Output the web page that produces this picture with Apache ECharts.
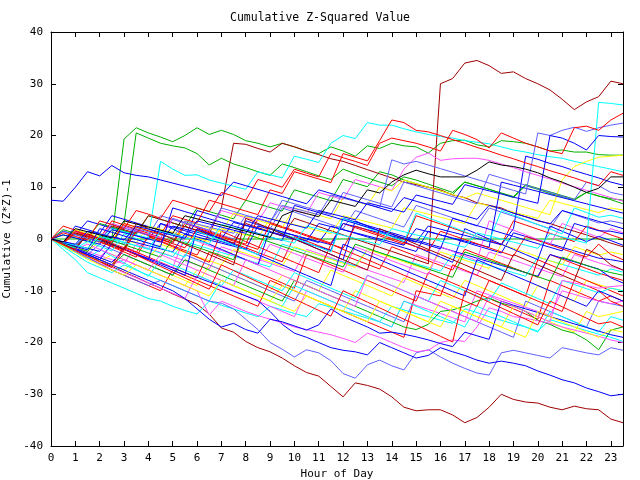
<!DOCTYPE html>
<html>
<head>
<meta charset="utf-8">
<script src="https://cdn.jsdelivr.net/npm/echarts@6/dist/echarts.min.js"></script>
<style>html,body{margin:0;padding:0;background:#fff;}#c{width:640px;height:480px;}</style>
</head>
<body>
<div id="c"></div>
<script>
const titleText = 'Cumulative Z-Squared Value';
const xName = 'Hour of Day';
const yName = 'Cumulative (Z*Z)-1';
const hours = [0,0.5,1,1.5,2,2.5,3,3.5,4,4.5,5,5.5,6,6.5,7,7.5,8,8.5,9,9.5,10,10.5,11,11.5,
  12,12.5,13,13.5,14,14.5,15,15.5,16,16.5,17,17.5,18,18.5,19,19.5,20,20.5,21,21.5,22,22.5,23,23.5];

const s01 = [0,-0.8,-1.5,0.5,-0.3,-1.2,-2,1.5, 0.8,0,-0.8,2.5,1.6,0.8,0,-0.8, 3,2.2,1.4,0.6,4,3.2,2.4,1.6, 0.8,0,-0.8,-1.6,-2.4,-3.2,-4,-4.8, 30,31,34,34.5,33.5,32,32.3,31, 30,28.8,27,25,26.5,27.5,30.5,30];
const s02 = [0,-1.1,-2.2,-3.2,-4.3,-5.3,-6.4,-7.4, -8.5,-9.5,-10.6,-11.6,-12.6,-14.5,-17.2,-18, -19.8,-21,-21.8,-23,-24.5,-25.8,-26.5,-28.5, -30.5,-27.8,-28.3,-29,-30.5,-32.5,-33.2,-33, -33,-34,-35.5,-34.5,-32.5,-30,-31,-31.5, -31.7,-32.5,-33,-32.3,-32.8,-33,-34.8,-35.5];
const s03 = [0,0.8,0.2,-0.5,0.6,0,19.3,21.5, 20.5,19.7,18.8,20,21.5,20.2,21,20.2, 19,18.5,17.8,18.5,17.8,17,16.5,17.8, 17,16,18,17.5,18.5,18,17.8,16.6, 18.5,19,19.1,18.2,17.8,19,18.8,18.5, 17.8,17,17.2,16.8,16.8,16.3,16.2,16.2];
const s04 = [0,-0.6,-1.2,0.5,-0.2,-0.9,3,20.5, 19.5,18.5,18,17.6,16.5,14.3,15.6,14.5, 13.8,13,12.3,14.5,13.8,13,12.2,11.5, 13.5,12.6,11.8,11,10.3,12,11.4,10.6, 9.8,9,11,10.3,9.6,8.8,8,10.3, 9.6,8.8,8.2,7.5,9,8.3,7.6,6.8];
const s05 = [7.5,7.3,10,13,12.2,14.2,12.8,12.3, 12,11.4,10.8,10.2,9.6,9,8.4,11, 10.3,9.6,8.9,8.2,7.5,6.8,9.5,8.8, 8.1,7.4,6.7,6,5.3,8,7.3,6.6, 5.9,5.2,4.5,3.8,6.5,5.8,5,4.3, 3.6,2.9,5.5,4.8,4.1,3.4,2.7,2];
const s06 = [0,-0.6,-1.2,-1.8,0.5,-0.1,-0.7,-1.3, -1.9,1.5,0.9,0.3,-0.3,-0.9,2.8,2.2, 1.6,1,0.4,-0.2,-0.8,2.5,1.9,1.3, 0.7,0.1,-0.5,-1.1,2,1.4,0.8,0.2, -0.4,-1,-1.6,1.2,0.6,0,-0.6,-1.2, -1.8,1,0.4,-0.2,-0.8,26.4,26.2,25.9];
const s07 = [0,1.2,0.5,-0.2,3.5,2.8,2,5.5, 4.8,4,7.5,6.8,6,5.3,9,8.3, 7.5,11.5,10.8,10,13.5,12.7,12,16.5, 15.7,15,14.2,18.5,19.5,19,18.5,17.8, 17,21,20.2,19.2,17.6,20.5,19.5,18.5, 17.8,17,16.5,21.5,21.8,21,23,24.3];
const s08 = [0,-0.6,2,1.4,0.8,0.2,3.5,2.9, 2.3,1.7,1.1,4.5,3.9,3.3,2.7,2.1, 1.5,0.9,0.3,4.5,5.5,4.9,4.3,7.5, 6.9,6.3,9.5,8.9,11,12.4,13.3,12.6, 12,12,12,13.3,14.9,14.3,14,13.5, 12.8,11.8,11,10,9,9.8,12,12];
const s09 = [0,-0.7,1.2,0.5,-0.2,2.5,1.8,1.1, 4.5,3.8,3.1,2.4,1.7,1,6,18.5, 18.3,17.5,16.8,18.5,17.8,17,16.3,15.5, 15,14.2,13.4,12.6,11.8,11,10.5,10, 9.5,8.5,8,7,6.5,6,5,4.3, 3.5,3,2.2,1.5,0.8,0,-0.8,-1.5];
const s10 = [0,-0.7,1.5,0.8,0.1,-0.6,3,2.3, 1.6,0.9,4.5,3.8,3.1,7.5,6.8,6.1, 5.4,4.7,9.5,8.8,13,12.3,11.6,10.9, 16.5,15.8,15.1,19,23,22.5,21,20.7, 20,19.2,18.5,17.7,17,16.2,15.5,14.7, 14,13.2,12.5,11.8,11,10.3,13,12.3];
const s11 = [0,-0.5,-1,1.5,1,0.4,-0.2,2.5, 1.9,1.3,0.7,0.1,3.5,2.9,2.3,1.7, 1.1,4.5,3.9,3.3,2.7,2.1,5.5,4.9, 4.3,3.7,7,6.4,5.8,5.2,8.5,7.9, 7.3,6.7,10.5,9.9,9.3,8.7,8.1,7.5, 6.9,20,19.5,18.5,17.2,20,19.8,19.7];
const s12 = [0,-0.6,-1.2,-1.8,-2.4,0.5,-0.1,-0.7, -1.3,-1.9,-2.5,1,0.4,-0.2,-0.8,-1.4, -2,2.5,1.9,1.3,0.7,0.1,-0.5,-1.1, 3,2.4,1.8,1.2,0.6,0,-0.6,2.5, 1.9,1.3,0.7,0.1,-0.5,-1.1,2,16, 15.4,14.6,14,13.2,12.5,11.8,11,10.4];
const s13 = [0,0.8,0.2,-0.4,-1,1.8,1.2,0.6, 0,-0.6,2.5,1.9,1.3,0.7,0.1,3.2, 2.6,2,1.4,0.8,0.2,-0.4,3,2.4, 1.8,1.2,0.6,0,-0.6,-1.2,2,1.4, 0.8,0.2,-0.4,-1,-1.6,11,10.4,9.8, 9.2,8.6,8,7.4,6.8,6.2,5.6,5];
const s14 = [0,-0.7,1.5,0.8,0.1,3,2.3,1.6, 0.9,0.2,3.8,3.1,2.4,1.7,5.5,4.8, 4.1,3.4,7,6.3,5.6,4.9,9,8.3, 7.6,11.5,10.8,10.1,9.4,13.5,15.8,16.6, 15.2,15.5,15.6,15.6,15.2,14.5,13.8,13, 12.3,11.6,10.8,10.1,9.4,8.7,8,7.3];
const s15 = [0,-0.6,-1.2,0.8,0.2,-0.4,-1,2, 1.4,0.8,0.2,3.5,2.9,2.3,1.7,1.1, 4.5,3.9,3.3,6.5,5.9,5.3,4.7,8.5, 7.9,7.3,6.7,6.1,15.3,14.5,15,14.3, 13.6,12.9,12.2,11.5,10.8,10.1,9.4,8.7, 20.5,20,21,21.6,20.8,21.5,22,22.4];
const s16 = [0,-0.6,0.8,0.2,-0.4,2,1.4,0.8, 0.2,15,13.5,12.3,12.4,11.4,10.8,10.2, 9.6,13,12.4,11.8,16,15.4,14.8,18.5, 20,19.4,22.5,22,22,21.3,20.7,20.2, 19.8,19.5,19,18.7,18.4,17.8,17.2,16.8, 16.3,15.9,15.6,15,14.5,14,13.5,13];
const s17 = [0,-0.9,-1.8,-2.7,-3.6,-4.5,-2,-2.9, -3.8,-4.7,-5.6,-6.5,-7.4,-8.3,-9.2,-10.1, -11,-11.9,-14,-16.5,-18.2,-19,-20,-21, -21.5,-21.8,-22.4,-20,-21,-22,-23,-22.5, -21,-21.8,-22.5,-23.4,-24,-23.6,-24,-24.5, -25.5,-26.3,-27.2,-27.8,-28.8,-29.5,-30.3,-30];
const s18 = [0,-1,-2,-3,-4,-5,-6,-7, -8,-9,-10,-11.5,-13.5,-15.5,-17,-16.3, -17.5,-18.2,-15.5,-16,-16.8,-17.6,-16.6,-13.5, -15,-16,-17,-18.2,-18,-18.4,-18.9,-19.5, -20.2,-20.8,-18,-18.7,-19.4,-12,-12.8,-13.5, -14.2,-15,-15.7,-16.4,-17.1,-17.8,-18.5,-19];
const s19 = [0,-2,-4,-6.5,-7.5,-8.5,-9.5,-10.5, -11.5,-12,-13,-13.8,-14.5,-12,-12.8,-13.5, -14.3,-15,-13,-13.7,-14.4,-15,-12.5,-13.2, -13.9,-14.6,-15.3,-16,-13,-13.7,-14.4,-15, -15.7,-16.3,-13.5,-14.2,-15,-15.7,-16.4,-17, -17.8,-15.6,-16.3,-17,-17.7,-18.4,-19,-19.8];
const s20 = [0,-1.2,-2.4,-3.6,-4.8,-6,-7,-8, -9,-8,-9,-10,-11,-12,-12.4,-13.5, -15.5,-17.5,-20,-21.3,-22.8,-21.4,-22,-23.5, -26,-26.9,-24.3,-23.4,-24.5,-25.3,-22,-21.4, -22.8,-24,-25,-25.9,-26.3,-22,-21.5,-22, -22.5,-23,-21,-21.5,-22,-22.4,-21,-21.5];
const s21 = [0,-1,-2,-3,-4,-5,-4,-5, -6,-7,-8,-9,-10,-14.7,-12,-13, -14,-14.8,-15.5,-16.2,-17,-17.5,-18,-18.5, -19.2,-20,-18.2,-19,-20,-21,-21.8,-21.5, -20,-19.5,-19.8,-17,-13.3,-14,-15,-15.3, -15.8,-16.3,-17,-17.6,-18.2,-18.8,-19.5,-20];
const s22 = [0,-0.9,-1.8,1,0.1,-0.8,-1.7,-2.6, 0.5,-0.4,-1.3,-2.2,-3.1,1,0.1,-0.8, -1.7,-2.6,-3.5,-4.4,0.5,-0.4,-1.3,-2.2, -3.1,-4,-4.9,-5.8,-1.5,-2.4,-3.3,-4.2, -5.1,-6,-2,-2.9,-3.8,-4.7,-5.6,-6.5, -7.4,-3,-3.9,-4.8,-5.7,-6.6,-7.3,-8];
const s23 = [0,-1,-2,-3,-4,-5,-1.5,-2.5, -3.5,-4.5,-5.5,-6.5,-7.5,-2.5,-3.5,-4.5, -5.5,-6.5,-7.5,-8.5,-9.5,-3,-4,-5, -6,-7,-8,-9,-10,-11,-12,-6.5, -7.5,-8.5,-9.5,-10.5,-11.5,-12.5,-13.5,-14.5, -15.5,-8,-9,-10,-11,-12,-11,-12];
const s24 = [0,-1.2,-2.4,-3.6,-4.8,-6,-7,-8, -9,-10,-6,-7,-8,-9,-10,-11, -12,-13,-8,-9,-10,-11,-12,-13, -14,-15,-16,-17,-18,-19,-10,-10.5, -11,-5,-6,-7,-8,-9,-10,-11, -4,-5,-6,-7,-8,-9,-10,-11];
const s25 = [0,1.5,0.8,3.5,2.8,2.1,1.4,0.7, 0,3,2.3,1.6,0.9,0.2,-0.5,-1.2, 3.5,2.8,2.1,1.4,0.7,0,-0.7,2.5, 1.8,1.1,0.4,-0.3,-1,-1.7,-2.4,1.5, 0.8,0.1,-0.6,-1.3,-2,-2.7,1.2,0.5, -0.2,-0.9,-1.6,-2.3,-3,-3.7,-4,-4.4];
const s26 = [0,-0.7,2.5,1.8,1.1,4.5,3.8,3.1, 2.4,1.7,1,0.3,5.5,4.8,4.1,3.4, 2.7,2,1.3,0.6,-0.1,-0.8,-1.5,-2.2, 4,3.3,2.6,1.9,1.2,0.5,-0.2,-0.9, -1.6,-2.3,-3,-3.7,-4.4,-5.1,-5.8,-6.5, -7.2,-3,-3.7,-4.4,-5.1,-5.8,-7.5,-8.5];
const s27 = [0,-0.8,-1.6,-2.4,-0.5,-1.3,-2.1,-2.9, -3.7,-1,-1.8,-2.6,-3.4,-4.2,-5,-2, -2.8,-3.6,-4.4,-5.2,-1.5,-2.3,-3.1,-3.9, -4.7,-5.5,-2,-2.8,-3.6,-4.4,-5.2,-6, -2.5,-3.3,-4.1,-4.9,-5.7,-1,-1.8,-2.6, -3.4,-4.2,-5,-1.5,-2.3,-3.1,-2.5,-3];
const s28 = [0,-1,-2,-3,-4,-5,-6,-4, -5,-6,-7,-8,-9,-5,-6,-7, -8,-9,-10,-7,-8,-9,-10,-6, -7,-8,-9,-10,-11,-7.5,-8.5,-9.5, -10.5,-11.5,-8,-9,-10,-11,-12,-13, -9,-10,-11,-12,-8,-8.8,-9.5,-10];
const s29 = [0,-1.1,-2.2,-3.3,-4.4,-3,-4,-5, -6,-7,-8,-9,-6,-7,-8,-9, -10,-11,-12,-9,-10,-11,-12,-13, -14,-10,-11,-12,-13,-14,-15,-16, -12,-13,-14,-15,-16,-17,-13,-14, -15,-16,-17,-18,-14,-15,-14.5,-14];
const s30 = [0,-0.8,-1.6,-2.4,-3.2,-4,-4.8,-1, -1.8,-2.6,-3.4,-4.2,-5,-5.8,-1.5,-2.3, -3.1,-3.9,-4.7,-5.5,-6.3,-2,-2.8,-3.6, -4.4,-5.2,-6,-6.8,-7.6,-8.4,-3,-3.8, -4.6,-5.4,-6.2,-7,-2.5,-3.3,-4.1,-4.9, -5.7,-6.5,-7.3,-3,-3.8,-4.6,-5.3,-6];
const s31 = [0,-1.2,-2.4,-3.6,-4.8,-5.5,-6.5,-7.5, -8.5,-9.5,-10.5,-11.5,-7,-8,-9,-10, -11,-12,-13,-14,-15,-10,-11,-12, -13,-14,-15,-16,-17,-12,-12.8,-13.6, -14.4,-15.2,-16,-10,-10.8,-11.6,-12.4,-13.2, -14,-14.8,-10,-10.7,-11.4,-12,-12.5,-12];
const s32 = [0,-1.5,-3,-4.5,-5.5,-6.5,-5,-6, -7,-8,-9,-10,-11,-12,-8,-9, -10,-11,-12,-13,-9,-10,-11,-12, -13,-14,-15,-16,-17,-12,-13,-14, -15,-16,-17,-13,-14,-15,-16,-17, -18,-14,-15,-16,-17,-18,-15,-15.7];
const s33 = [0,-0.7,-1.4,1.5,0.8,0.1,-0.6,-1.3, -2,-2.7,-3.4,-0.5,-1.2,-1.9,-2.6,-3.3, -4,-4.7,-5.4,-1,-1.7,-2.4,-3.1,-3.8, -4.5,-5.2,-2,-2.7,-3.4,-4.1,-4.8,-5.5, -6.2,-3,-3.7,-4.4,-5.1,-5.8,-6.5,-7.2, -3.5,-4.2,-4.9,-5.6,-6.3,-7,-5.8,-6.4];
const s34 = [0,0,0,0,0,0,0,0, 0,0,0,0,0,0,0,0, 0,0,0,0,0,0,0,0, 0,0,0,0,0,0,0,0, 0,0,0,0,0,0,0,0, 0,0,0,0,0,0,0,0];
const s35 = [0,1.8,1.1,0.4,3,2.3,1.6,0.9, 4.5,3.8,3.1,2.4,6,5.3,4.6,3.9, 7.5,6.8,6.1,5.4,9.5,8.8,8.1,7.4, 11.5,10.8,10.1,13,12.4,11.4,10.7,10, 9.3,8.6,11,10.3,9.6,8.9,8.2,10.5, 9.8,9.1,8.4,7.7,9,8.3,7.8,7.5];
const s36 = [0,-0.8,1.5,0.7,-0.1,-0.9,2.5,1.7, 0.9,0.1,4,3.2,2.4,1.6,0.8,0, 3.5,2.7,1.9,6,5.2,4.4,3.6,2.8, 2,5.5,4.7,3.9,3.1,2.3,6.5,5.7, 4.9,4.1,3.3,2.5,6,5.2,4.4,3.6, 2.8,2,5.5,4.7,3.9,3.1,3.5,3];
const s37 = [0,-1,-2,-3,-1,-2,-3,-4, -5,-6,-7,-3,-4,-5,-6,-7, -8,-9,-10,-11,-12,-8,-9,-10, -11,-12,-13,-14,-15,-16,-11,-12, -13,-14,-15,-16,-17,-18,-19,-12, -13,-14,-15,-16,-17,-12,-12.5,-13];
const s38 = [0,2.5,1.7,0.9,0.1,3.5,2.7,1.9, 1.1,0.3,-0.5,3,2.2,1.4,0.6,-0.2, -1,4,3.2,2.4,1.6,0.8,0,-0.8, 3,2.2,1.4,0.6,-0.2,-1,4.5,3.7, 2.9,2.1,1.3,0.5,-0.3,-1.1,3.5,2.7, 1.9,1.1,0.3,-0.5,2.5,1.7,0.8,0];
const s39 = [0,-1,1.5,0.5,-0.5,-1.5,-2.5,-3.5, 0.5,-0.5,-1.5,-2.5,-3.5,-4.5,1.5,0.5, -0.5,-1.5,-2.5,-3.5,-4.5,-5.5,-6.5,-1, -2,-3,-4,-5,-6,-7,-8,-9, -10,-11,-12,-13,-8,-9,-10,-11, -12,-13,-14,-8,-9,-10,-12,-13];
const s40 = [0,-0.7,1.8,1.1,0.4,-0.3,3,2.3, 1.6,0.9,0.2,3.5,2.8,2.1,1.4,5, 4.3,3.6,2.9,2.2,6,5.3,4.6,3.9, 8,7.3,6.6,10,9.3,11.4,10.7,10, 9.3,8.6,7.9,8.9,8.2,7.5,6.8,6.1, 5.4,4.7,11.4,14,15,15.8,16,16.2];
const s41 = [0,-1,-2,1,0,-1,-2,-3, -4,3,2,1,0,-1,-2,-3, -4,-5,2,1,0,-1,-2,-3, -4,3.5,2.5,1.5,0.5,-0.5,-1.5,-2.5, -3.5,-4.5,2,1,0,-1,-2,-3, -4,2.5,1.5,0.5,-0.5,0.5,-0.3,-1.2];
const s42 = [0,-0.9,-1.8,-2.7,-3.6,-1,-1.9,-2.8, -3.7,-4.6,-5.5,0.5,-0.4,-1.3,-2.2,-3.1, -4,-4.9,-1,-1.9,-2.8,-3.7,-4.6,-5.5, -6.4,-1.5,-2.4,-3.3,-4.2,-5.1,-6,-6.9, -1.5,-2.4,-3.3,-4.2,3.5,2.6,1.7,0.8, -0.1,-1,3,2.1,1.2,0.3,2,1.2];
const s43 = [0,-1,-2,-3,-4,-5,-3,-4, -5,-6,-7,-4,-5,-6,-7,-8, -9,-10,-11,-12,-8,-9,-10,-11, -12,-13,-14,-15,-16,-17,-17.5,-16.5, -14,-13.7,-13,-12,-11.4,-12.4,-13,-14, -15.7,-16.5,-17.6,-18.2,-19.5,-21.4,-17.6,-17];
const s44 = [0,-1.3,-2.6,-3.9,-2,-3.3,-4.6,-5.9, -7.2,-4,-5,-6,-7,-8,-9,-6, -7,-8,-9,-10,-6.5,-7.5,-8.5,-9.5, -10.5,-11.5,-7,-8,-9,-10,-11,-12, -8,-9,-10,-11,-12,-8.5,-9.5,-10.5, -11.5,-12.5,-8,-8.8,-9.6,-10.4,-9.5,-10];
const s45 = [0,-0.6,-1.2,-1.8,1,0.4,-0.2,-0.8, 2.5,1.9,1.3,0.7,0.1,-0.5,2,1.4, 0.8,0.2,4,3.4,2.8,2.2,1.6,1, 4.5,3.9,3.3,2.7,2.1,6,5.4,4.8, 4.2,3.6,3,7,6.4,5.8,5.2,4.6, 4,7.5,6.9,6.3,5.7,5.1,6,5.6];
const s46 = [0,-0.8,1,0.2,-0.6,-1.4,-2.2,1.5, 0.7,-0.1,-0.9,-1.7,2,1.2,0.4,-0.4, -1.2,-2,3,2.2,1.4,0.6,-0.2,-1, -1.8,2.5,1.7,0.9,0.1,-0.7,-1.5,-2.3, 1.5,0.7,-0.1,-0.9,-1.7,-2.5,-3.3,0.5, -0.3,-1.1,-1.9,-2.7,-3.5,-1,-3,-4];
const s47 = [0,-1,-2,-3,-4,-1,-2,-3, -4,-5,-6,-7,2,1,0,-1, -2,-3,-4,-5,-6,-7,-8,-9, -1,-2,-3,-4,-5,-6,-7,-8, -9,-10,-11,-4,-5,-6,-7,-8, -9,-10,-11,-12,-13,-10,-11,-12];
const s48 = [0,-1,-2,-1,-2,-3,-4,-5, -6,-3,-4,-5,-6,-7,-8,-9, -4,-5,-6,-7,-8,-9,-10,-11, -12,-13,-7,-8,-9,-10,-11,-12, -13,-14,-15,-16,-11,-12,-13,-14, -15,-16,-8,-8.5,-9,-9.5,-9.2,-9];
const s49 = [0,-0.9,-1.8,-0.5,-1.4,-2.3,1,0.1, -0.8,-1.7,-2.6,-3.5,1.5,0.6,-0.3,-1.2, -2.1,-3,2,1.1,0.2,-0.7,-1.6,-2.5, 4,3.1,2.2,1.3,0.4,-0.5,5,4.1, 3.2,2.3,1.4,0.5,-0.4,5.5,4.6,3.7, 2.8,1.9,1,6,5.1,4.2,4.6,4];
const s50 = [0,-1.3,-2.6,-3.9,-5,-6,-7,-5, -6,-7,-8,-9,-10,-11,-8,-9, -10,-11,-12,-13,-14,-11,-12,-13, -14,-15,-16,-12,-13,-14,-15,-16, -17,-13,-14,-15,-16,-17,-18,-19, -14,-15,-16,-17,-18,-19,-17.5,-18];
const s51 = [0,-0.8,-1.6,-2.4,0.5,-0.3,-1.1,-1.9, -2.7,-3.5,0,-0.8,-1.6,-2.4,-3.2,-4, 1,0.2,-0.6,-1.4,-2.2,-3,-3.8,-4.6, -5.4,-1,-1.8,-2.6,-3.4,-4.2,-5,-5.8, -6.6,-7.4,-2.5,-3.3,-4.1,-4.9,-5.7,-6.5, -7.3,-8.1,-3.5,-4.3,-5.1,-5.9,-6.5,-7];
const s52 = [0,1.5,0.8,0.1,-0.6,2.8,2.1,1.4, 0.7,4.5,3.8,3.1,2.4,1.7,6,5.3, 4.6,3.9,3.2,7.5,6.8,6.1,5.4,4.7, 9,8.3,7.6,6.9,6.2,11,10.3,9.6, 8.9,8.2,7.5,6.8,12.5,11.8,11.1,10.4, 9.7,9,8.3,7.6,11,10.3,9,8.5];
const s53 = [0,-1.1,-2.2,-3.3,-4.4,-5.5,-2,-3.1, -4.2,-5.3,-6.4,-7.5,-8.6,-9.7,-5,-6.1, -7.2,-8.3,-9.4,-10.5,-11.6,-12.7,-13.8,-14.9, -10,-11.1,-12.2,-13.3,-14.4,-15.5,-16.6,-17.7, -18.8,-19.9,-10,-11.1,-12.2,-13.3,-14.4,-15.5, -16.6,-12,-13.1,-14.2,-15.3,-16.4,-16,-17];
const s54 = [0,-1,-2,1,0,-1,-2,3, 2,1,0,-1,-2,-3,-4,-5, 4,3,2,1,0,-1,-2,-3, -4,-5,-6,2,1,0,-1,-2, -3,-4,-5,-6,-7,-8,-3,-4, -5,-6,-7,-8,-2,-3,-5,-6];
const s55 = [0,-0.7,-1.4,-2.1,2,1.3,0.6,-0.1, -0.8,-1.5,6,5.3,4.6,3.9,3.2,2.5, 1.8,1.1,0.4,-0.3,6.5,5.8,5.1,4.4, 3.7,3,2.3,1.6,0.9,0.2,-0.5,-1.2, -1.9,4,3.3,2.6,1.9,1.2,0.5,-0.2, -0.9,-1.6,-2.3,3,2.3,1.6,1.5,1];

const RED='#ff0000', GREEN='#00b000', BLUE='#0000ff', MAG='#ff50ff', CYAN='#00ffff',
      DRED='#a00000', YEL='#ffff00', SLATE='#6060ff', BLACK='#000000';

const seriesValues = [s34,s22,s03,s25,s30,s33,s02,s27,s36,s23,s04,s26,s42,s19,s01,s28,s37,
  s24,s35,s41,s31,s32,s09,s29,s20,s38,s43,s17,s21,s44,s39,s18,s45,s12,s14,s16,s40,s13,s15,
  s46,s51,s47,s48,s49,s54,s50,s52,s53,s55,
  s10,s05,s06,s11,s07,s08];
const seriesColors = [GREEN,RED,GREEN,BLUE,MAG,CYAN,DRED,YEL,SLATE,RED,GREEN,BLUE,MAG,CYAN,DRED,YEL,SLATE,
  RED,GREEN,BLUE,MAG,CYAN,DRED,YEL,SLATE,RED,GREEN,BLUE,MAG,CYAN,RED,BLUE,YEL,BLUE,MAG,CYAN,YEL,BLUE,SLATE,
  RED,GREEN,BLUE,MAG,CYAN,DRED,YEL,SLATE,RED,BLUE,
  RED,BLUE,CYAN,BLUE,RED,BLACK];

const FONT = 'DejaVu Sans Mono';
const chart = echarts.init(document.getElementById('c'), null, {renderer:'canvas'});

const baseX = {
  type:'value', min:0, max:23.5, interval:1,
  axisLine:{show:true, onZero:false, lineStyle:{color:'#000', width:1}},
  axisTick:{show:true, inside:true, length:5, lineStyle:{color:'#000'}},
  splitLine:{show:false}
};
const baseY = {
  type:'value', min:-40, max:40, interval:10,
  axisLine:{show:true, onZero:false, lineStyle:{color:'#000', width:1}},
  axisTick:{show:true, inside:true, length:5, lineStyle:{color:'#000'}},
  splitLine:{show:false}
};

chart.setOption({
  animation:false,
  backgroundColor:'#fff',
  title:{text:titleText, left:'center', top:7,
    textStyle:{fontFamily:FONT, fontSize:11.5, fontWeight:'normal', color:'#000'}},
  grid:{left:51, right:17, top:32, bottom:34, containLabel:false, outerBoundsMode:'none'},
  xAxis:[
    Object.assign({}, baseX, {position:'bottom', name:xName, nameLocation:'middle', nameGap:21,
      nameTextStyle:{fontFamily:FONT, fontSize:11, color:'#000'},
      axisLabel:{show:true, showMaxLabel:false, margin:7, fontFamily:FONT, fontSize:11, color:'#000'}}),
    Object.assign({}, baseX, {position:'top', axisLabel:{show:false}})
  ],
  yAxis:[
    Object.assign({}, baseY, {position:'left', name:yName, nameLocation:'middle', nameGap:29, nameRotate:90,
      nameTextStyle:{fontFamily:FONT, fontSize:11, color:'#000'},
      axisLabel:{show:true, margin:8, fontFamily:FONT, fontSize:11, color:'#000'}}),
    Object.assign({}, baseY, {position:'right', axisLabel:{show:false}})
  ],
  series: seriesValues.map((vals, i) => ({
    type:'line',
    xAxisIndex:0, yAxisIndex:0,
    data: hours.map((h, j) => [h, vals[j]]),
    showSymbol:false, symbol:'none', silent:true,
    lineStyle:{width:1, color:seriesColors[i]},
    itemStyle:{color:seriesColors[i]},
    clip:true
  }))
});
</script>
</body>
</html>
